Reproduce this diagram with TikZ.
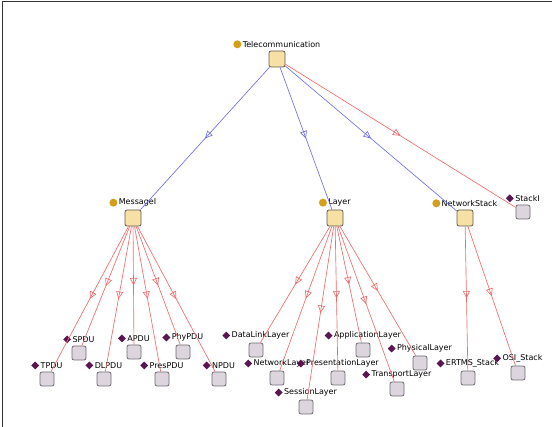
\documentclass[tikz,border=0pt]{standalone}
\usepackage{fontspec}
\setmainfont{DejaVu Sans}
\usetikzlibrary{arrows.meta,positioning,shapes.geometric,decorations.markings}
\definecolor{clsfill}{HTML}{F6E0A6}
\definecolor{clsline}{HTML}{5E5A4E}
\definecolor{indfill}{HTML}{DCD5DE}
\definecolor{indline}{HTML}{6E6A70}
\definecolor{dotgold}{HTML}{D4A01C}
\definecolor{diapurple}{HTML}{5A1650}
\definecolor{isablue}{HTML}{6E6EEE}
\definecolor{instred}{HTML}{F06A6A}
\tikzset{
  cls/.style = {rectangle, rounded corners=2pt, draw=clsline, fill=clsfill,
    minimum size=16pt, inner sep=0pt, line width=0.8pt},
  ind/.style = {rectangle, rounded corners=2pt, draw=indline, fill=indfill,
    minimum size=14pt, inner sep=0pt, line width=0.8pt},
  lbl/.style = {font=\fontsize{8}{9}\selectfont, inner sep=0.5pt, xshift=4.5pt},
  clsdot/.style = {circle, fill=dotgold, minimum size=8pt, inner sep=0pt},% class marker
  inddot/.style = {diamond, fill=diapurple, minimum size=8pt, inner sep=0pt},% individual marker
  midtip/.style = {postaction={decorate}, decoration={markings,
    mark=at position 0.5 with {\arrow{Triangle[open,length=7.5pt,width=7pt]}}}},
  isa/.style = {draw=isablue, line width=0.65pt, midtip},
  inst/.style = {draw=instred, line width=0.65pt, midtip}
}
\begin{document}
\begin{tikzpicture}[x=1pt, y=-1pt]
\useasboundingbox (0,0) rectangle (552,427);
\draw[line width=0.8pt, black!80] (552,1) -- (2,1) -- (2,427);
% classes
\node [cls] (tel) at (277,59) {};
\node [lbl, above=2.5pt of tel] (tel_l) {Telecommunication};
\node [clsdot, left=0.5pt of tel_l] {};
\node [cls] (msg) at (133,218) {};
\node [lbl, above=2.5pt of msg] (msg_l) {MessageI};
\node [clsdot, left=0.5pt of msg_l] {};
\node [cls] (lay) at (335,218) {};
\node [lbl, above=2.5pt of lay] (lay_l) {Layer};
\node [clsdot, left=0.5pt of lay_l] {};
\node [cls] (nst) at (465,218) {};
\node [lbl, above=2.5pt of nst] (nst_l) {NetworkStack};
\node [clsdot, left=0.5pt of nst_l] {};
% individuals
\node [ind] (stk) at (523,212) {};
\node [lbl, above=2.5pt of stk] (stk_l) {StackI};
\node [inddot, left=0.5pt of stk_l] {};
\node [ind] (spdu) at (79,353) {};
\node [lbl, above=2.5pt of spdu] (spdu_l) {SPDU};
\node [inddot, left=0.5pt of spdu_l] {};
\node [ind] (apdu) at (134,352) {};
\node [lbl, above=2.5pt of apdu] (apdu_l) {APDU};
\node [inddot, left=0.5pt of apdu_l] {};
\node [ind] (phypdu) at (183,352) {};
\node [lbl, above=2.5pt of phypdu] (phypdu_l) {PhyPDU};
\node [inddot, left=0.5pt of phypdu_l] {};
\node [ind] (tpdu) at (47,379) {};
\node [lbl, above=2.5pt of tpdu] (tpdu_l) {TPDU};
\node [inddot, left=0.5pt of tpdu_l] {};
\node [ind] (dlpdu) at (104,379) {};
\node [lbl, above=2.5pt of dlpdu] (dlpdu_l) {DLPDU};
\node [inddot, left=0.5pt of dlpdu_l] {};
\node [ind] (prespdu) at (162,379) {};
\node [lbl, above=2.5pt of prespdu] (prespdu_l) {PresPDU};
\node [inddot, left=0.5pt of prespdu_l] {};
\node [ind] (npdu) at (219,379) {};
\node [lbl, above=2.5pt of npdu] (npdu_l) {NPDU};
\node [inddot, left=0.5pt of npdu_l] {};
\node [ind] (dll) at (256,350) {};
\node [lbl, above=2.5pt of dll] (dll_l) {DataLinkLayer};
\node [inddot, left=0.5pt of dll_l] {};
\node [ind] (apl) at (363,350) {};
\node [lbl, above=2.5pt of apl] (apl_l) {ApplicationLayer};
\node [inddot, left=0.5pt of apl_l] {};
\node [ind] (nwl) at (277,378) {};
\node [lbl, above=2.5pt of nwl] (nwl_l) {NetworkLayer};
\node [inddot, left=0.5pt of nwl_l] {};
\node [ind] (prl) at (338,378) {};
\node [lbl, above=2.5pt of prl] (prl_l) {PresentationLayer};
\node [inddot, left=0.5pt of prl_l] {};
\node [ind] (phl) at (420,363) {};
\node [lbl, above=2.5pt of phl] (phl_l) {PhysicalLayer};
\node [inddot, left=0.5pt of phl_l] {};
\node [ind] (trl) at (397,389) {};
\node [lbl, above=2.5pt of trl] (trl_l) {TransportLayer};
\node [inddot, left=0.5pt of trl_l] {};
\node [ind] (ssl) at (306,407) {};
\node [lbl, above=2.5pt of ssl] (ssl_l) {SessionLayer};
\node [inddot, left=0.5pt of ssl_l] {};
\node [ind] (ert) at (468,378) {};
\node [lbl, above=2.5pt of ert] (ert_l) {ERTMS\_Stack};
\node [inddot, left=0.5pt of ert_l] {};
\node [ind] (osi) at (518,373) {};
\node [lbl, above=2.5pt of osi] (osi_l) {OSI\_Stack};
\node [inddot, left=0.5pt of osi_l] {};
% subclass links
\draw [isa] (tel) -- (msg);
\draw [isa] (tel) -- (lay);
\draw [isa] (tel) -- (nst);
% instance links
\draw [inst] (tel) -- (stk);
\draw [inst] (msg) -- (tpdu);
\draw [inst] (msg) -- (spdu);
\draw [inst] (msg) -- (dlpdu);
\draw [inst] (msg) -- (apdu);
\draw [inst] (msg) -- (prespdu);
\draw [inst] (msg) -- (phypdu);
\draw [inst] (msg) -- (npdu);
\draw [inst] (lay) -- (dll);
\draw [inst] (lay) -- (nwl);
\draw [inst] (lay) -- (ssl);
\draw [inst] (lay) -- (prl);
\draw [inst] (lay) -- (apl);
\draw [inst] (lay) -- (trl);
\draw [inst] (lay) -- (phl);
\draw [inst] (nst) -- (ert);
\draw [inst] (nst) -- (osi);
\end{tikzpicture}
\end{document}
